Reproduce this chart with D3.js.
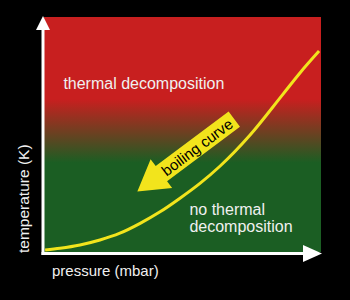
<!DOCTYPE html>
<html>
<head>
<meta charset="utf-8">
<script src="https://cdn.jsdelivr.net/npm/d3@7"></script>
<style>
	html, body { margin: 0; padding: 0; background: #000; }
	svg { display: block; }
</style>
</head>
<body>
<script>
// boiling curve (arbitrary units, 0..100)
const pressure    = [0.4, 5.8, 13, 20.2, 27.4, 34.7, 41.9, 49.1, 56.3, 63.5, 74.4, 86.3, 92.4, 99.3];
const temperature = [0.85, 1.6, 3, 5.1, 8, 12.2, 17.1, 22.9, 29.2, 36.5, 49.8, 67.2, 76.2, 85.5];

// region labels (data units)
const regionLabels = [
	{ lines: ["thermal decomposition"], p: 7, t: 69.5 },
	{ lines: ["no thermal", "decomposition"], p: 52.5, t: 15.7 }
];

// "boiling curve" arrow, tail -> tip (data units)
const arrowTail = { p: 68.7, t: 56.5 };
const arrowTip  = { p: 33.7, t: 25.7 };
const arrowText = "boiling curve";

const axisTitles = { x: "pressure (mbar)", y: "temperature (K)" };

const W = 350, H = 300;
const RED = "#c81f1f";
const GREEN = "#1b5e23";
const YELLOW = "#f2e41c";
const FONT = "'Liberation Sans', Arial, sans-serif";

const x = d3.scaleLinear().domain([0, 100]).range([44, 321]);
const y = d3.scaleLinear().domain([0, 100]).range([252, 17]);

const svg = d3.select("body").append("svg")
	.attr("width", W)
	.attr("height", H);

svg.append("rect")
	.attr("width", W).attr("height", H)
	.attr("fill", "#000");

// red -> green background
const grad = svg.append("defs").append("linearGradient")
	.attr("id", "bg")
	.attr("x1", 0).attr("y1", 0).attr("x2", 0).attr("y2", 1);
grad.append("stop").attr("offset", 0.35).attr("stop-color", RED);
grad.append("stop").attr("offset", 0.62).attr("stop-color", GREEN);

svg.append("rect")
	.attr("x", x(0))
	.attr("y", y(100))
	.attr("width", x(100) - x(0))
	.attr("height", y(0) - y(100))
	.attr("fill", "url(#bg)");

// boiling curve
const pts = pressure.map((p, i) => ({ p, t: temperature[i] }));
svg.append("path")
	.datum(pts)
	.attr("d", d3.line().x(d => x(d.p)).y(d => y(d.t)).curve(d3.curveMonotoneX))
	.attr("fill", "none")
	.attr("stroke", YELLOW)
	.attr("stroke-width", 3);

// axes with arrow heads
const axisX = x(0) - 1, axisY = y(0) + 1.5;
svg.append("line")
	.attr("x1", axisX).attr("x2", axisX)
	.attr("y1", y(100) + 12).attr("y2", axisY + 1.5)
	.attr("stroke", "#fff").attr("stroke-width", 3);
svg.append("line")
	.attr("x1", axisX - 1.5).attr("x2", x(100) - 17)
	.attr("y1", axisY).attr("y2", axisY)
	.attr("stroke", "#fff").attr("stroke-width", 3);
svg.append("path")
	.attr("d", `M${axisX},${y(100) - 1}L${axisX - 7},${y(100) + 13}L${axisX + 7},${y(100) + 13}Z`)
	.attr("fill", "#fff");
svg.append("path")
	.attr("d", `M${x(100) + 1},${axisY}L${x(100) - 18},${axisY - 8.5}L${x(100) - 18},${axisY + 8.5}Z`)
	.attr("fill", "#fff");

// region labels
regionLabels.forEach(lab => {
	const t = svg.append("text")
		.attr("x", x(lab.p))
		.attr("y", y(lab.t))
		.attr("fill", "#f0f0f0")
		.attr("font-family", FONT)
		.attr("font-size", 16);
	lab.lines.forEach((s, i) => {
		t.append("tspan")
			.attr("x", x(lab.p))
			.attr("dy", i === 0 ? 0 : 17)
			.text(s);
	});
});

// boiling curve arrow
const tx = x(arrowTip.p), ty = y(arrowTip.t);
const ex = x(arrowTail.p), ey = y(arrowTail.t);
const len = Math.hypot(ex - tx, ey - ty);
const ang = Math.atan2(ey - ty, ex - tx) * 180 / Math.PI;
const headLen = 30, headHalf = 18, bodyHalf = 9.5;

const arrow = svg.append("g")
	.attr("transform", `translate(${tx},${ty}) rotate(${ang})`);
arrow.append("path")
	.attr("d", [
		"M0,0",
		`L${headLen},${-headHalf}`,
		`L${headLen},${-bodyHalf}`,
		`L${len},${-bodyHalf}`,
		`L${len},${bodyHalf}`,
		`L${headLen},${bodyHalf}`,
		`L${headLen},${headHalf}`,
		"Z"
	].join(""))
	.attr("fill", YELLOW);
arrow.append("text")
	.attr("x", (headLen + len) / 2 - 1)
	.attr("y", 5.5)
	.attr("text-anchor", "middle")
	.attr("fill", "#000")
	.attr("font-family", FONT)
	.attr("font-size", 15)
	.text(arrowText);

// axis titles
svg.append("text")
	.attr("x", 52)
	.attr("y", 276)
	.attr("fill", "#f0f0f0")
	.attr("font-family", FONT)
	.attr("font-size", 15)
	.text(axisTitles.x);

svg.append("text")
	.attr("transform", `translate(29,${y(0) + 1}) rotate(-90)`)
	.attr("fill", "#f0f0f0")
	.attr("font-family", FONT)
	.attr("font-size", 15.5)
	.text(axisTitles.y);
</script>
</body>
</html>
